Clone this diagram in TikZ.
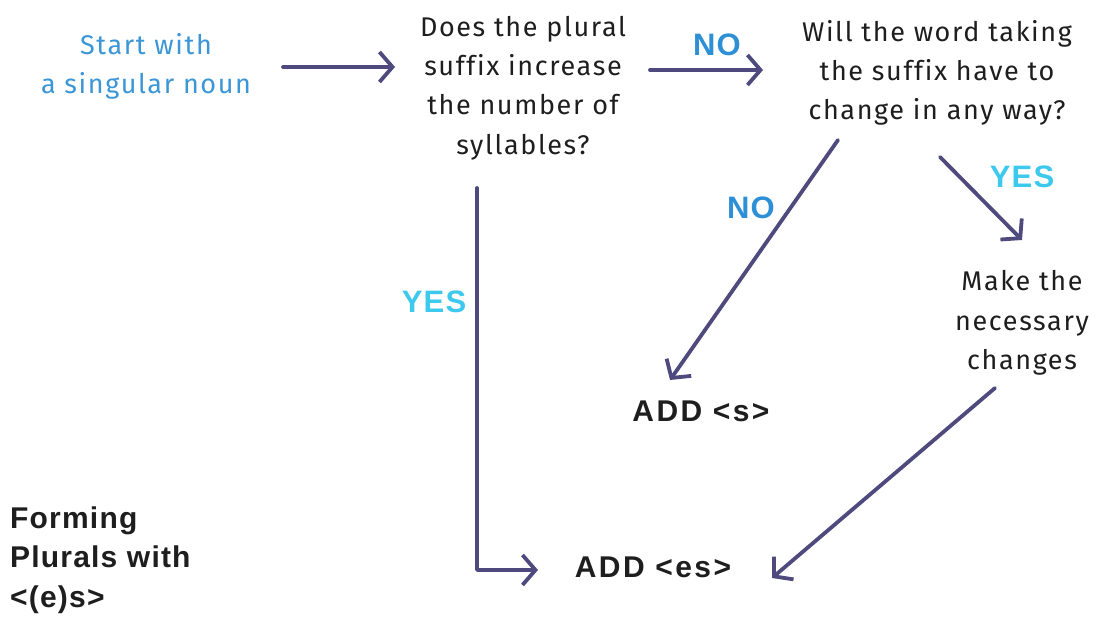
\documentclass[tikz,border=0pt]{standalone}
\usepackage{fontspec}
\setmainfont[LetterSpace=6,Ligatures=CommonOff]{Fira Sans}
\newfontfamily\boldfont[LetterSpace=8]{Liberation Sans}
\newfontfamily\titlefont[LetterSpace=4]{Liberation Sans}
\newfontfamily\labelfont[LetterSpace=4]{Liberation Sans}
\usetikzlibrary{arrows.meta}
\definecolor{arrowc}{HTML}{4E4A7E}
\definecolor{startblue}{HTML}{3A96D6}
\definecolor{noblue}{HTML}{2D8FD6}
\definecolor{yescyan}{HTML}{3DC9EE}
\definecolor{txt}{HTML}{1E1E1E}
\tikzset{
  flow/.style={draw=arrowc, line width=3.8pt, line cap=round, line join=round,
    -{Straight Barb[length=13pt, width=30pt, line width=3.8pt]}},
  plain/.style={align=center, text=txt, font=\fontsize{27}{39.3}\selectfont, inner sep=0pt},
  boldlbl/.style={text=txt, font=\boldfont\bfseries\fontsize{30}{39}\selectfont, inner sep=0pt},
  titlelbl/.style={text=txt, font=\titlefont\bfseries\fontsize{30}{39.5}\selectfont, inner sep=0pt},
  nolbl/.style={text=noblue, font=\labelfont\bfseries\fontsize{31}{32}\selectfont, inner sep=0pt},
  yeslbl/.style={text=yescyan, font=\labelfont\bfseries\fontsize{31}{32}\selectfont, inner sep=0pt},
}
\begin{document}
\begin{tikzpicture}[x=1pt, y=-1pt]
\useasboundingbox (0,0) rectangle (1100,627);
\node[plain, text=startblue] (start) at (146,66) {Start with\\a singular noun};
\node[plain] (q1) at (523,88) {Does the plural\\suffix increase\\the number of\\syllables?};
\node[plain] (q2) at (937,73) {Will the word taking\\the suffix have to\\change in any way?};
\node[plain] (make) at (1022,323) {Make the\\necessary\\changes};
\node[boldlbl] (adds) at (701,411) {ADD <s>};
\node[boldlbl] (addes) at (653,567) {ADD <es>};
\node[titlelbl, align=left, anchor=west] (title) at (10,560) {Forming\\Plurals with\\<(e)s>};
\node[nolbl] (no1) at (717,45) {NO};
\node[nolbl] (no2) at (751,208) {NO};
\node[yeslbl] (yes1) at (1022,177) {YES};
\node[yeslbl] (yes2) at (434,302) {YES};
\coordinate (a1s) at (283,67);
\coordinate (a1e) at (395,67);
\coordinate (a2s) at (650,70);
\coordinate (a2e) at (763,70);
\coordinate (a3s) at (838,140);
\coordinate (a3e) at (670,380);
\coordinate (a4s) at (940,157);
\coordinate (a4e) at (1022,240);
\coordinate (a5s) at (995,388);
\coordinate (a5e) at (772,578);
\coordinate (a6s) at (477,188);
\coordinate (a6c) at (477,570);
\coordinate (a6e) at (538,570);
\draw[flow] (a1s) -- (a1e);
\draw[flow] (a2s) -- (a2e);
\draw[flow] (a3s) -- (a3e);
\draw[flow] (a4s) -- (a4e);
\draw[flow] (a5s) -- (a5e);
\draw[flow] (a6s) -- (a6c) -- (a6e);
\end{tikzpicture}
\end{document}
